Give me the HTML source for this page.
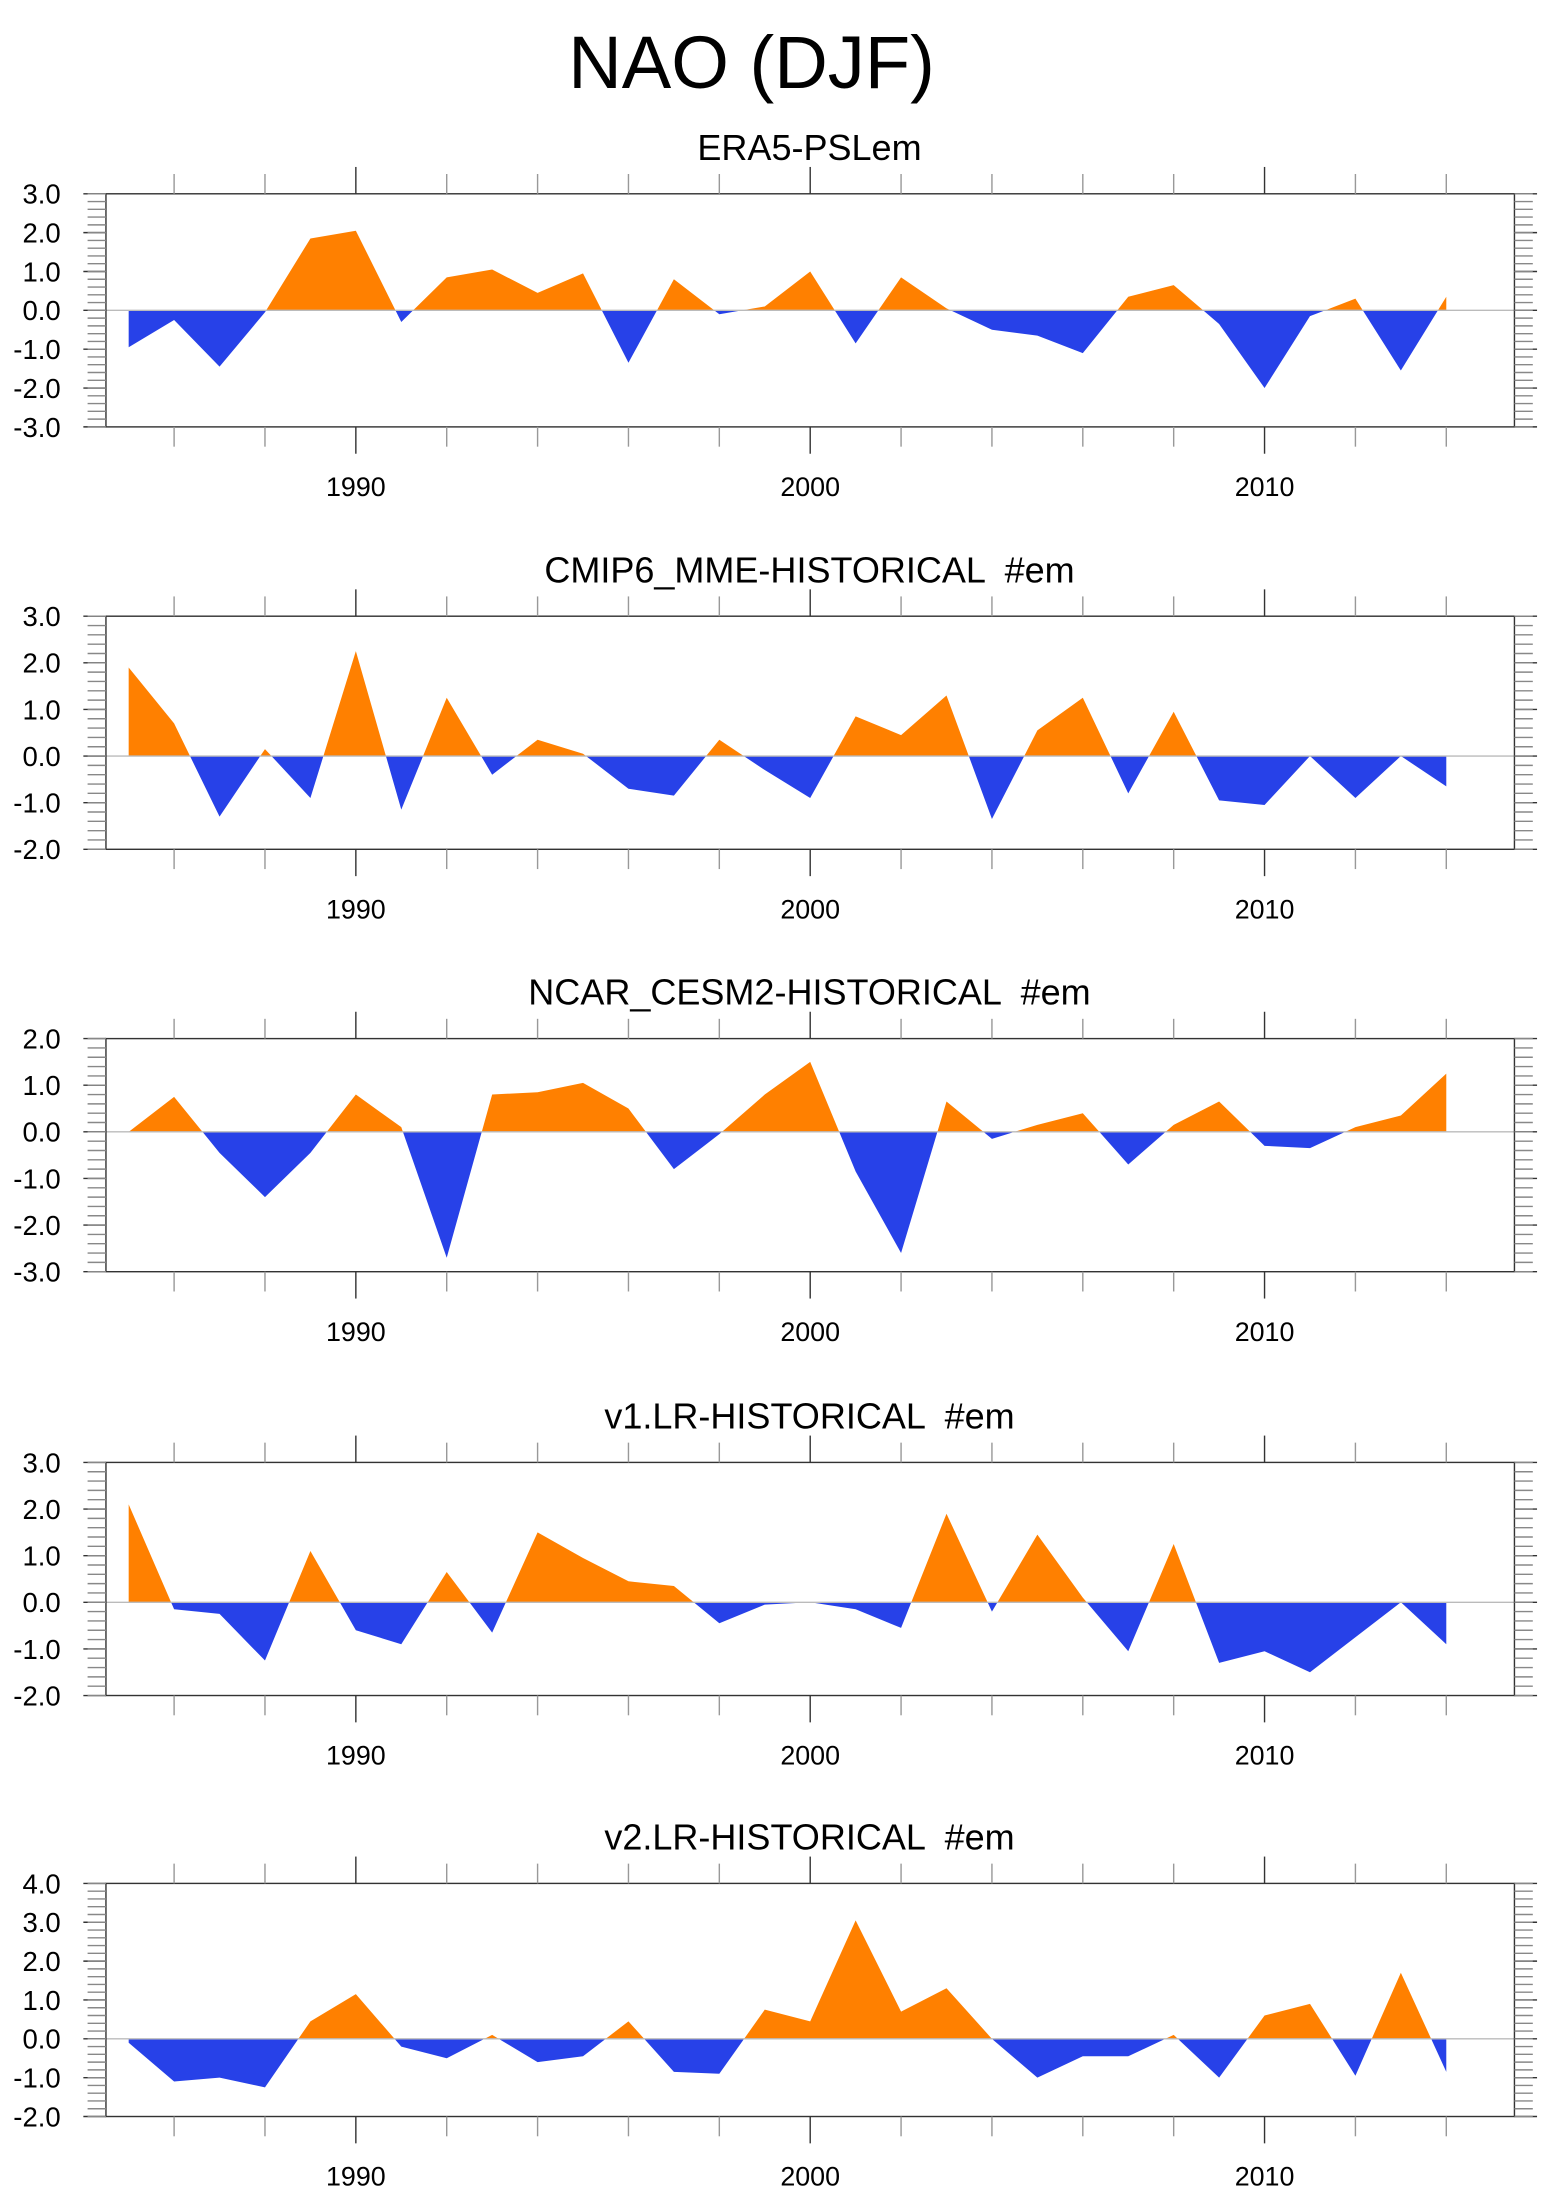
<!DOCTYPE html>
<html><head><meta charset="utf-8"><style>
html,body{margin:0;padding:0;background:#fff;}
svg{display:block;font-family:"Liberation Sans",sans-serif;}
text{white-space:pre;}
</style></head><body>
<svg id="c" width="1554" height="2210" viewBox="0 0 1100 1564" xmlns="http://www.w3.org/2000/svg">
<text x="532" y="62" font-size="52.5" text-anchor="middle">NAO (DJF)</text>
</svg>
<script>
const years = [];
for (let y = 1985; y <= 2014; y++) years.push(y);
const titles = ["ERA5-PSLem","CMIP6_MME-HISTORICAL  #em","NCAR_CESM2-HISTORICAL  #em","v1.LR-HISTORICAL  #em","v2.LR-HISTORICAL  #em"];
const era5 = [-0.95,-0.25,-1.45,-0.05,1.85,2.05,-0.3,0.85,1.05,0.45,0.95,-1.35,0.8,-0.1,0.1,1.0,-0.85,0.85,0.05,-0.5,-0.65,-1.1,0.35,0.65,-0.35,-2.0,-0.15,0.3,-1.55,0.35];
const mme = [1.9,0.7,-1.3,0.15,-0.9,2.25,-1.15,1.25,-0.4,0.35,0.05,-0.7,-0.85,0.35,-0.3,-0.9,0.85,0.45,1.3,-1.35,0.55,1.25,-0.8,0.95,-0.95,-1.05,0.0,-0.9,0.0,-0.65];
const cesm2 = [0.0,0.75,-0.45,-1.4,-0.45,0.8,0.1,-2.7,0.8,0.85,1.05,0.5,-0.8,-0.05,0.8,1.5,-0.85,-2.6,0.65,-0.15,0.15,0.4,-0.7,0.15,0.65,-0.3,-0.35,0.1,0.35,1.25];
const v1 = [2.1,-0.15,-0.25,-1.25,1.1,-0.6,-0.9,0.65,-0.65,1.5,0.95,0.45,0.35,-0.45,-0.05,0.0,-0.15,-0.55,1.9,-0.2,1.45,0.1,-1.05,1.25,-1.3,-1.05,-1.5,-0.75,0.0,-0.9];
const v2 = [-0.1,-1.1,-1.0,-1.25,0.45,1.15,-0.2,-0.5,0.1,-0.6,-0.45,0.45,-0.85,-0.9,0.75,0.45,3.05,0.7,1.3,0.0,-1.0,-0.45,-0.45,0.1,-1.0,0.6,0.9,-0.95,1.7,-0.85];
const yMins = [-3,-2,-3,-2,-2];
const yMaxs = [3,3,2,3,4];
const xTickLabels = [1990,2000,2010];
const series = [era5,mme,cesm2,v1,v2];
const boxTops = [137,436,735,1035,1333];

const NS = "http://www.w3.org/2000/svg";
const svg = document.getElementById('c');
function mk(tag, attrs, parent){const e=document.createElementNS(NS,tag);for(const k in attrs)e.setAttribute(k,attrs[k]);(parent||svg).appendChild(e);return e;}
const L=75,R=1072,H=165,X0=1984.5,X1=2015.5;
const sx = y => L + (y - X0) / (X1 - X0) * (R - L);

series.forEach((vals, p) => {
  const T = boxTops[p], B = T + H, ymin = yMins[p], ymax = yMaxs[p];
  const sy = v => B - (v - ymin) / (ymax - ymin) * H;
  const g = mk('g', {});
  
  
  const t = mk('text', {x: 573, y: T - 24, 'font-size': 25.5, 'text-anchor': 'middle'}, g);
  t.textContent = titles[p];
  
  
  const z = sy(0);
  const cidA = 'ca' + p, cidB = 'cb' + p;
  const defs = mk('defs', {}, g);
  const ca = mk('clipPath', {id: cidA}, defs); mk('rect', {x: L, y: T, width: R - L, height: z - T}, ca);
  const cb = mk('clipPath', {id: cidB}, defs); mk('rect', {x: L, y: z, width: R - L, height: B - z}, cb);
  let pts = sx(years[0]) + ',' + z + ' ';
  vals.forEach((v, i) => { pts += sx(years[i]) + ',' + sy(v) + ' '; });
  pts += sx(years[years.length - 1]) + ',' + z;
  const pa = mk('polygon', {points: pts, fill: '#ff8000', 'clip-path': 'url(#' + cidA + ')'}, g);
  
  
  const pb = mk('polygon', {points: pts, fill: '#2741e8', 'clip-path': 'url(#' + cidB + ')'}, g);
  
  
  mk('line', {x1: L, x2: R, y1: z, y2: z, stroke: '#bbb', 'stroke-width': 1}, g);
  mk('rect', {x: L, y: T, width: R - L, height: H, fill: 'none', stroke: '#333', 'stroke-width': 1}, g);
  for (let y = 1986; y <= 2014; y += 2) {
    const x = sx(y), major = (y % 10 === 0);
    const len = major ? 19 : 14;
    mk('line', {x1: x, x2: x, y1: T, y2: T - len, stroke: major ? '#333' : '#999', 'stroke-width': 1}, g);
    mk('line', {x1: x, x2: x, y1: B, y2: B + len, stroke: major ? '#333' : '#999', 'stroke-width': 1}, g);
  }
  xTickLabels.forEach(y => {
    const tl = mk('text', {x: sx(y), y: B + 49, 'font-size': 19, 'text-anchor': 'middle'}, g);
    tl.textContent = y;
    
    
  });
  for (let v = ymin; v <= ymax + 1e-9; v += 1) {
    const y = sy(v);
    mk('line', {x1: L, x2: L - 16, y1: y, y2: y, stroke: '#333'}, g);
    mk('line', {x1: R, x2: R + 16, y1: y, y2: y, stroke: '#333'}, g);
    const yl = mk('text', {x: 43, y: y + 7, 'font-size': 19.5, 'text-anchor': 'end'}, g);
    yl.textContent = v.toFixed(1);
    
    
  }
  for (let k = 0; k <= (ymax - ymin) * 5; k++) {
    const y = sy(ymin + k * 0.2);
    mk('line', {x1: L, x2: L - 13, y1: y, y2: y, stroke: '#888'}, g);
    mk('line', {x1: R, x2: R + 13, y1: y, y2: y, stroke: '#888'}, g);
  }
});
</script>
</body></html>
